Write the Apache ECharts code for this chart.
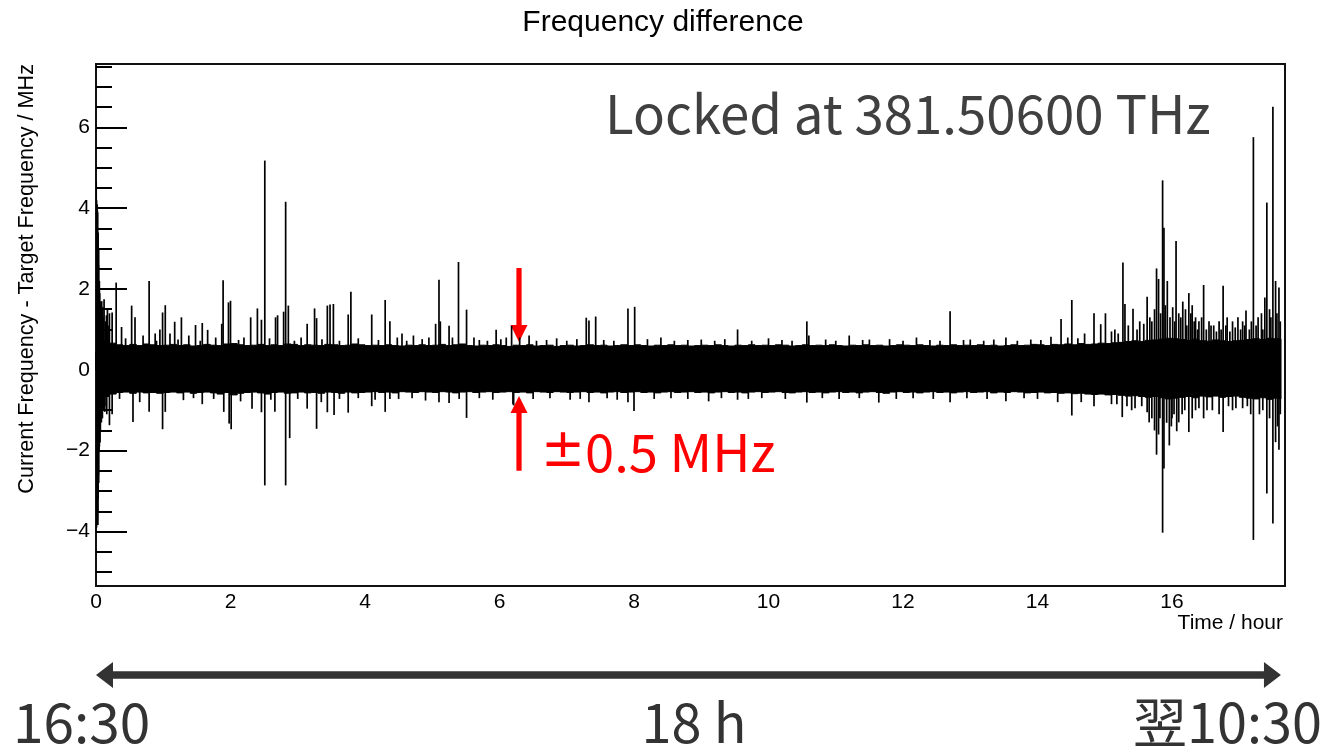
<!DOCTYPE html>
<html><head><meta charset="utf-8">
<script src="https://cdn.jsdelivr.net/npm/echarts@6/dist/echarts.min.js"></script>
<style>html,body{margin:0;padding:0;background:#fff}#c{width:1332px;height:746px}</style>
</head><body><div id="c"></div><script>
// ---------- text ----------
const chartTitle = 'Frequency difference';
const xAxisTitle = 'Time / hour';
const yAxisTitle = 'Current Frequency - Target Frequency / MHz';
const lockedLabel = 'Locked at 381.50600 THz';
const toleranceLabel = '{pm|±}0.5 MHz';
const startLabel = '16:30';
const spanLabel = '18 h';
const endLabel = '翌10:30';

// ---------- axes ----------
const xRange = [0, 17.68];
const yRange = [-5.35, 7.57];
const xMajorTicks = [0, 2, 4, 6, 8, 10, 12, 14, 16];
const xMinorTicks = [0.5, 1, 1.5, 2.5, 3, 3.5, 4.5, 5, 5.5, 6.5, 7, 7.5, 8.5, 9, 9.5, 10.5, 11, 11.5, 12.5, 13, 13.5, 14.5, 15, 15.5, 16.5, 17, 17.5];
const yMajorTicks = [-4, -2, 0, 2, 4, 6];
const yMinorTicks = [-5, -4.5, -3.5, -3, -2.5, -1.5, -1, -0.5, 0.5, 1, 1.5, 2.5, 3, 3.5, 4.5, 5, 5.5, 6.5, 7, 7.5];

// ---------- data ----------
// dense noise band: envelope per 0.1 h bin (MHz)
const bandStart = 0;
const bandStep = 0.1;
const dataEnd = 17.62;
const bandUpper = [
  1.2, 0.72, 0.66, 0.62, 0.6, 0.63, 0.6, 0.64, 0.62, 0.6,
  0.61, 0.63, 0.6, 0.62, 0.59, 0.6, 0.63, 0.61, 0.6, 0.64,
  0.65, 0.62, 0.6, 0.61, 0.63, 0.6, 0.62, 0.6, 0.64, 0.63,
  0.6, 0.62, 0.61, 0.6, 0.63, 0.62, 0.6, 0.61, 0.64, 0.62,
  0.6, 0.61, 0.6, 0.62, 0.6, 0.59, 0.61, 0.6, 0.62, 0.6,
  0.61, 0.63, 0.6, 0.62, 0.64, 0.6, 0.59, 0.61, 0.6, 0.62,
  0.6, 0.58, 0.61, 0.6, 0.62, 0.59, 0.6, 0.61, 0.58, 0.6,
  0.61, 0.59, 0.6, 0.62, 0.6, 0.61, 0.59, 0.6, 0.62, 0.6,
  0.62, 0.6, 0.59, 0.61, 0.6, 0.62, 0.6, 0.61, 0.59, 0.6,
  0.61, 0.6, 0.62, 0.6, 0.59, 0.61, 0.6, 0.62, 0.6, 0.61,
  0.6, 0.62, 0.61, 0.59, 0.6, 0.62, 0.6, 0.61, 0.6, 0.62,
  0.6, 0.59, 0.61, 0.6, 0.62, 0.6, 0.61, 0.59, 0.6, 0.62,
  0.61, 0.6, 0.62, 0.6, 0.59, 0.61, 0.6, 0.62, 0.6, 0.61,
  0.6, 0.62, 0.6, 0.61, 0.59, 0.6, 0.62, 0.6, 0.61, 0.63,
  0.62, 0.6, 0.63, 0.62, 0.64, 0.62, 0.65, 0.63, 0.64, 0.66,
  0.65, 0.67, 0.68, 0.7, 0.72, 0.7, 0.73, 0.74, 0.76, 0.78,
  0.77, 0.75, 0.73, 0.76, 0.72, 0.71, 0.74, 0.72, 0.7, 0.72,
  0.73, 0.75, 0.77, 0.75, 0.78, 0.77, 0.76
];
const bandLower = [
  -1.0, -0.66, -0.6, -0.56, -0.55, -0.58, -0.55, -0.57, -0.56, -0.58,
  -0.56, -0.55, -0.57, -0.55, -0.58, -0.56, -0.55, -0.57, -0.6, -0.56,
  -0.62, -0.58, -0.56, -0.55, -0.57, -0.6, -0.56, -0.55, -0.58, -0.57,
  -0.55, -0.57, -0.56, -0.58, -0.55, -0.56, -0.58, -0.55, -0.57, -0.56,
  -0.55, -0.54, -0.56, -0.55, -0.57, -0.54, -0.55, -0.56, -0.54, -0.55,
  -0.56, -0.54, -0.55, -0.57, -0.55, -0.54, -0.56, -0.55, -0.54, -0.56,
  -0.55, -0.54, -0.56, -0.55, -0.57, -0.54, -0.55, -0.56, -0.54, -0.55,
  -0.56, -0.55, -0.54, -0.56, -0.55, -0.57, -0.55, -0.54, -0.56, -0.55,
  -0.54, -0.56, -0.55, -0.57, -0.55, -0.54, -0.56, -0.55, -0.54, -0.56,
  -0.55, -0.57, -0.55, -0.54, -0.56, -0.55, -0.57, -0.55, -0.54, -0.56,
  -0.55, -0.54, -0.56, -0.57, -0.55, -0.54, -0.56, -0.55, -0.57, -0.55,
  -0.54, -0.56, -0.55, -0.57, -0.55, -0.54, -0.56, -0.58, -0.55, -0.54,
  -0.56, -0.55, -0.57, -0.55, -0.54, -0.56, -0.55, -0.57, -0.55, -0.54,
  -0.56, -0.55, -0.54, -0.57, -0.55, -0.56, -0.54, -0.55, -0.57, -0.56,
  -0.55, -0.57, -0.56, -0.58, -0.57, -0.59, -0.58, -0.6, -0.61, -0.6,
  -0.62, -0.61, -0.63, -0.65, -0.64, -0.66, -0.68, -0.66, -0.69, -0.72,
  -0.7, -0.68, -0.66, -0.69, -0.65, -0.67, -0.65, -0.68, -0.66, -0.65,
  -0.68, -0.7, -0.72, -0.69, -0.73, -0.7, -0.72
];
// individual excursions [time / hour, value / MHz]
const spikesUp = [
  [0.003, 4.67], [0.008, 4.2], [0.012, 4.0], [0.016, 4.1], [0.02, 3.95], [0.024, 3.9], [0.028, 3.1], [0.032, 3.4],
  [0.036, 2.6], [0.04, 3.0], [0.045, 2.0], [0.05, 2.2], [0.055, 1.9], [0.06, 1.7], [0.065, 1.6], [0.075, 1.45],
  [0.085, 1.7], [0.095, 1.5], [0.1, 1.55], [0.105, 1.3], [0.12, 1.75], [0.14, 1.2], [0.155, 1.35], [0.17, 1.5],
  [0.18, 1.1], [0.2, 1.4], [0.24, 1.42], [0.3, 2.16], [0.38, 1.06], [0.44, 0.78], [0.53, 1.59],
  [0.58, 1.3], [0.7, 0.85], [0.79, 2.2], [0.88, 0.9], [0.9, 0.72], [0.95, 1.0], [0.99, 1.42], [1.03, 1.6], [1.1, 0.9],
  [1.17, 1.19], [1.22, 0.75], [1.27, 1.3], [1.38, 0.85], [1.48, 1.11], [1.55, 0.72], [1.58, 1.16], [1.66, 0.99], [1.78, 0.8],
  [1.87, 1.14], [1.89, 2.22], [1.97, 1.67], [2.0, 1.71], [2.12, 0.74], [2.2, 0.8], [2.3, 1.3], [2.4, 1.52], [2.46, 1.24],
  [2.51, 5.18], [2.58, 0.78], [2.67, 1.3], [2.7, 1.35], [2.79, 1.44], [2.82, 4.16], [2.86, 1.59], [2.95, 0.72], [3.05, 0.8],
  [3.14, 1.14], [3.25, 1.52], [3.28, 1.28], [3.36, 0.76], [3.44, 1.59], [3.48, 1.62], [3.53, 1.63], [3.62, 0.72],
  [3.75, 1.37], [3.79, 1.93], [3.9, 0.78], [4.1, 1.37], [4.2, 0.74], [4.3, 1.73], [4.37, 1.2], [4.48, 0.8], [4.55, 0.9],
  [4.62, 0.72], [4.72, 0.85], [4.85, 0.76], [4.95, 0.8], [5.05, 1.14], [5.1, 2.23], [5.12, 1.2], [5.25, 1.09], [5.3, 0.8],
  [5.39, 2.67], [5.51, 1.49], [5.62, 0.8], [5.7, 0.74], [5.82, 0.72], [5.95, 0.99], [6.02, 0.76], [6.1, 0.8], [6.18, 1.09],
  [6.3, 0.8], [6.44, 0.85], [6.55, 0.72], [6.7, 0.74], [6.85, 0.78], [7.0, 0.72], [7.15, 0.76], [7.29, 1.29], [7.33, 1.22],
  [7.43, 1.32], [7.55, 0.74], [7.7, 0.72], [7.91, 1.52], [8.01, 1.56], [8.2, 0.76], [8.4, 0.8], [8.6, 0.72], [8.8, 0.74],
  [9.0, 0.75], [9.2, 0.72], [9.35, 0.76], [9.54, 1.0], [9.75, 0.72], [10.0, 0.78], [10.2, 0.74], [10.35, 0.72], [10.57, 1.2],
  [10.6, 0.85], [10.85, 0.75], [11.0, 0.72], [11.2, 0.85], [11.4, 0.74], [11.5, 0.75], [11.8, 0.76], [12.0, 0.72],
  [12.2, 0.8], [12.4, 0.74], [12.55, 0.72], [12.7, 1.45], [12.9, 0.74], [13.0, 0.75], [13.2, 0.72], [13.35, 0.75],
  [13.53, 0.8], [13.7, 0.72], [13.9, 0.75], [14.05, 0.74], [14.2, 0.82], [14.35, 1.26], [14.45, 0.8], [14.51, 1.73],
  [14.6, 0.78], [14.7, 0.9], [14.84, 1.4], [14.94, 1.13], [15.01, 1.4], [15.1, 0.95], [15.15, 1.0], [15.2, 0.9],
  [15.27, 2.66], [15.3, 1.63], [15.35, 1.1], [15.42, 1.51], [15.48, 1.0], [15.52, 1.2], [15.58, 1.14], [15.63, 1.81],
  [15.67, 1.3], [15.7, 1.2], [15.74, 1.5], [15.77, 2.51], [15.8, 2.25], [15.83, 1.4], [15.86, 4.69], [15.88, 3.52],
  [15.9, 1.6], [15.93, 2.2], [15.97, 1.3], [16.01, 1.55], [16.04, 1.2], [16.06, 3.19], [16.1, 1.4], [16.13, 1.3],
  [16.16, 1.69], [16.2, 1.5], [16.22, 1.1], [16.25, 1.9], [16.28, 1.4], [16.3, 1.6], [16.33, 1.2], [16.35, 1.3],
  [16.38, 1.0], [16.4, 1.2], [16.44, 1.3], [16.47, 2.1], [16.51, 1.0], [16.55, 1.2], [16.58, 1.1], [16.62, 1.1],
  [16.66, 0.95], [16.7, 1.2], [16.73, 1.0], [16.76, 2.08], [16.8, 1.1], [16.82, 1.3], [16.86, 0.95], [16.9, 1.2],
  [16.94, 1.05], [16.98, 1.3], [17.02, 1.0], [17.05, 1.2], [17.08, 1.1], [17.1, 1.47], [17.15, 1.0], [17.18, 1.2],
  [17.21, 5.76], [17.25, 1.1], [17.28, 1.3], [17.33, 1.4], [17.35, 1.0], [17.38, 1.79], [17.41, 4.14], [17.45, 1.5],
  [17.47, 1.3], [17.5, 6.51], [17.54, 2.2], [17.56, 1.4], [17.59, 2.04], [17.61, 1.2]
];
const spikesDown = [
  [0.003, -3.2], [0.008, -3.9], [0.012, -3.84], [0.016, -3.6], [0.02, -3.7], [0.024, -3.5], [0.028, -3.84], [0.032, -3.2],
  [0.036, -2.6], [0.04, -2.8], [0.045, -2.0], [0.05, -1.9], [0.06, -1.8], [0.065, -1.5], [0.075, -1.3], [0.08, -1.3],
  [0.085, -1.1], [0.095, -1.2], [0.11, -1.0], [0.13, -1.04], [0.15, -0.9], [0.16, -1.1], [0.2, -1.37], [0.24, -1.1],
  [0.35, -0.72], [0.55, -1.29], [0.65, -0.8], [0.79, -1.04], [0.99, -1.47], [1.03, -1.04], [1.3, -0.75], [1.45, -0.7],
  [1.58, -0.85], [1.75, -0.72], [1.9, -1.04], [1.98, -1.33], [2.01, -1.47], [2.15, -0.78], [2.32, -0.96], [2.46, -1.05],
  [2.51, -2.86], [2.6, -0.74], [2.66, -1.04], [2.82, -2.86], [2.88, -1.69], [3.0, -0.72], [3.14, -0.96], [3.28, -1.46],
  [3.35, -0.8], [3.44, -1.05], [3.54, -1.12], [3.62, -0.72], [3.75, -1.06], [3.9, -0.7], [4.1, -0.9], [4.15, -0.74],
  [4.3, -1.04], [4.37, -0.72], [4.5, -0.72], [4.7, -0.7], [4.9, -0.76], [5.1, -0.8], [5.25, -0.82], [5.4, -0.72],
  [5.51, -1.19], [5.7, -0.7], [5.9, -0.74], [6.2, -0.85], [6.21, -0.88], [6.5, -0.72], [6.75, -0.7], [7.05, -0.74],
  [7.2, -0.72], [7.33, -0.8], [7.6, -0.7], [7.75, -0.74], [7.91, -0.8], [8.0, -1.02], [8.3, -0.72], [8.55, -0.7],
  [8.8, -0.72], [9.11, -0.78], [9.3, -0.7], [9.54, -0.74], [9.7, -0.72], [9.9, -0.7], [10.25, -0.72], [10.57, -0.81],
  [10.8, -0.7], [11.05, -0.72], [11.35, -0.7], [11.64, -0.81], [11.9, -0.72], [12.15, -0.7], [12.45, -0.72], [12.7, -0.8],
  [12.95, -0.7], [13.25, -0.72], [13.53, -0.78], [13.8, -0.7], [14.0, -0.72], [14.3, -0.8], [14.51, -1.13], [14.65, -0.8],
  [14.84, -0.9], [15.1, -0.85], [15.18, -0.85], [15.26, -1.17], [15.33, -0.9], [15.4, -1.0], [15.45, -0.95], [15.55, -0.9],
  [15.63, -1.05], [15.66, -1.3], [15.7, -1.2], [15.74, -1.5], [15.77, -2.1], [15.8, -1.6], [15.82, -1.2], [15.86, -4.03],
  [15.88, -2.44], [15.92, -1.31], [15.96, -1.87], [15.99, -1.4], [16.0, -1.2], [16.03, -1.1], [16.07, -1.52], [16.1, -1.3],
  [16.15, -1.1], [16.19, -1.0], [16.25, -1.54], [16.3, -1.2], [16.35, -1.0], [16.4, -0.95], [16.47, -1.2], [16.52, -1.0],
  [16.6, -1.0], [16.7, -1.1], [16.76, -1.54], [16.84, -0.9], [16.9, -1.0], [16.95, -0.95], [17.05, -0.95], [17.12, -0.9],
  [17.17, -1.1], [17.21, -4.21], [17.3, -1.1], [17.35, -1.0], [17.41, -3.06], [17.45, -1.2], [17.5, -3.8], [17.54, -1.79],
  [17.57, -1.4], [17.59, -1.98], [17.61, -1.1]
];

// annotation anchors in data units
const arrowTime = 6.29;
const arrowDown = [2.52, 0.69];
const arrowUp = [-2.5, -0.65];

// ---------- build ----------
const axisFont = 'Liberation Sans, Arial, Helvetica, sans-serif';
const noteFont = '"Noto Sans CJK JP", "Noto Sans", sans-serif';

const spikeData = spikesUp.concat(spikesDown);

const chart = echarts.init(document.getElementById('c'), null, {renderer: 'canvas'});

function fmtTick(v) { return v < 0 ? '\u2212' + Math.abs(v) : String(v); }

const tickLine = {color: '#000', width: 2};
chart.setOption({
  animation: false,
  backgroundColor: '#fff',
  title: {
    text: chartTitle, left: 658, top: 3, textAlign: 'center',
    textStyle: {fontFamily: axisFont, fontSize: 30, fontWeight: 'normal', color: '#000'}
  },
  grid: {left: 96, right: 47, top: 64, bottom: 160, show: true, borderColor: '#111', borderWidth: 2, backgroundColor: 'transparent'},
  xAxis: [
    {type: 'value', min: xRange[0], max: xRange[1], position: 'bottom',
     axisLine: {show: false}, splitLine: {show: false},
     axisTick: {show: true, inside: true, length: 18, customValues: xMajorTicks, lineStyle: tickLine},
     axisLabel: {show: true, customValues: xMajorTicks, margin: 6, fontSize: 21, fontFamily: axisFont, color: '#000'}},
    {type: 'value', min: xRange[0], max: xRange[1], position: 'bottom',
     axisLine: {show: false}, splitLine: {show: false},
     axisTick: {show: true, inside: true, length: 9, customValues: xMinorTicks, lineStyle: tickLine},
     axisLabel: {show: false}}
  ],
  yAxis: [
    {type: 'value', min: yRange[0], max: yRange[1], position: 'left',
     axisLine: {show: false}, splitLine: {show: false},
     axisTick: {show: true, inside: true, length: 31, customValues: yMajorTicks, lineStyle: tickLine},
     axisLabel: {show: true, customValues: yMajorTicks, margin: 6, fontSize: 21, fontFamily: axisFont, color: '#000', formatter: fmtTick}},
    {type: 'value', min: yRange[0], max: yRange[1], position: 'left', offset: 0,
     axisLine: {show: false}, splitLine: {show: false},
     axisTick: {show: true, inside: true, length: 16, customValues: yMinorTicks, lineStyle: tickLine},
     axisLabel: {show: false}}
  ],
  series: [
    {
      // the dense band, drawn as one polygon through the axis scales
      type: 'custom', name: 'band', xAxisIndex: 0, yAxisIndex: 0, clip: true,
      data: [[bandStart, 0]],
      renderItem: function (params, api) {
        const pts = [];
        for (let i = 0; i < bandUpper.length; i++) {
          const t0 = bandStart + i * bandStep;
          const t1 = Math.min(t0 + bandStep, dataEnd);
          pts.push(api.coord([t0, bandUpper[i]]), api.coord([t1, bandUpper[i]]));
        }
        for (let i = bandLower.length - 1; i >= 0; i--) {
          const t0 = bandStart + i * bandStep;
          const t1 = Math.min(t0 + bandStep, dataEnd);
          pts.push(api.coord([t1, bandLower[i]]), api.coord([t0, bandLower[i]]));
        }
        return {type: 'polygon', shape: {points: pts}, style: {fill: '#000', stroke: '#000', lineWidth: 1}};
      }
    },
    {
      type: 'custom', name: 'spikes', xAxisIndex: 0, yAxisIndex: 0, clip: true,
      data: spikeData,
      renderItem: function (params, api) {
        const p = api.coord([api.value(0), 0]);
        const q = api.coord([api.value(0), api.value(1)]);
        return {type: 'line', shape: {x1: p[0], y1: p[1], x2: q[0], y2: q[1]},
                style: {stroke: '#000', lineWidth: 1.7}};
      }
    }
  ]
});

// ---------- annotations ----------
const px = (t, v) => chart.convertToPixel({xAxisIndex: 0, yAxisIndex: 0}, [t, v]);
const dTop = px(arrowTime, arrowDown[0]);
const dTip = px(arrowTime, arrowDown[1]);
const uBot = px(arrowTime, arrowUp[0]);
const uTip = px(arrowTime, arrowUp[1]);
const sw = 2.6, hw = 8.5, hl = 17;
function downArrow(x, y0, y1) {
  return [[x - sw, y0], [x + sw, y0], [x + sw, y1 - hl], [x + hw, y1 - hl], [x, y1], [x - hw, y1 - hl], [x - sw, y1 - hl]];
}
function upArrow(x, y0, y1) {
  return [[x - sw, y0], [x + sw, y0], [x + sw, y1 + hl], [x + hw, y1 + hl], [x, y1], [x - hw, y1 + hl], [x - sw, y1 + hl]];
}
const x0 = px(0, 0)[0];
const xEnd = px(dataEnd, 0)[0];
const ay = 675, ahl = 17, ahh = 13, ash = 3.8;
const doubleArrow = [
  [x0, ay], [x0 + ahl, ay - ahh], [x0 + ahl, ay - ash], [xEnd - ahl, ay - ash], [xEnd - ahl, ay - ahh], [xEnd, ay],
  [xEnd - ahl, ay + ahh], [xEnd - ahl, ay + ash], [x0 + ahl, ay + ash], [x0 + ahl, ay + ahh]
];

chart.setOption({
  graphic: [
    {type: 'text', x: 27, y: 64, rotation: Math.PI / 2,
     style: {text: yAxisTitle, align: 'right', verticalAlign: 'middle', fontSize: 21.6, fontFamily: axisFont, fill: '#000'}},
    {type: 'text', x: 1283, y: 623,
     style: {text: xAxisTitle, align: 'right', verticalAlign: 'middle', fontSize: 21, fontFamily: axisFont, fill: '#000'}},
    {type: 'text', x: 605, y: 114,
     style: {text: lockedLabel, align: 'left', verticalAlign: 'middle', fontSize: 52.8, fontFamily: noteFont, fill: '#404040'}},
    {type: 'text', x: 541, y: 452,
     style: {text: toleranceLabel, align: 'left', verticalAlign: 'middle', fontSize: 52.5, fontFamily: noteFont, fill: '#ff0000',
             rich: {pm: {fontSize: 52.5, fontFamily: '"DejaVu Sans", sans-serif', fill: '#ff0000'}}}},
    {type: 'polygon', shape: {points: downArrow(dTop[0], dTop[1], dTip[1])}, style: {fill: '#ff0000'}},
    {type: 'polygon', shape: {points: upArrow(uBot[0], uBot[1], uTip[1])}, style: {fill: '#ff0000'}},
    {type: 'polygon', shape: {points: doubleArrow}, style: {fill: '#333333'}},
    {type: 'text', x: 13, y: 722,
     style: {text: startLabel, align: 'left', verticalAlign: 'middle', fontSize: 55, fontFamily: noteFont, fill: '#333333'}},
    {type: 'text', x: 694, y: 722,
     style: {text: spanLabel, align: 'center', verticalAlign: 'middle', fontSize: 54, fontFamily: noteFont, fill: '#333333'}},
    {type: 'text', x: 1322, y: 722,
     style: {text: endLabel, align: 'right', verticalAlign: 'middle', fontSize: 54, fontFamily: noteFont, fill: '#333333'}}
  ]
});
</script></body></html>
